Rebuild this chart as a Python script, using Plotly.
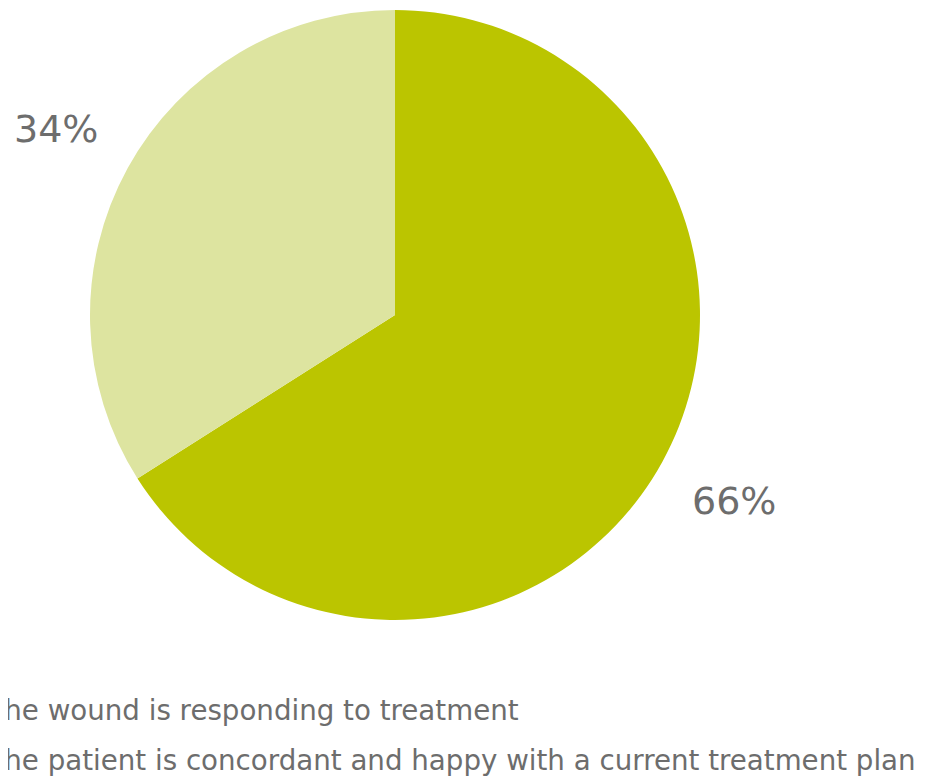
import math
import plotly.graph_objects as go

labels = ["The wound is responding to treatment",
          "The patient is concordant and happy with a current treatment plan"]
values = [66, 34]
colors = ["#BBC500", "#DDE4A0"]

W, H = 926, 780
# figure coordinates (page body adds an 8px offset)
cx, cy, r = 387, 307, 305

legend_labels = [f'<span style="font-size:27.7px">{l}</span>' for l in labels]

fig = go.Figure(go.Pie(
    labels=legend_labels, values=values, sort=False, direction="clockwise", rotation=0,
    marker=dict(colors=colors, line=dict(width=0)),
    textinfo="none", hoverinfo="percent",
    domain=dict(x=[(cx - r) / W, (cx + r) / W], y=[(H - cy - r) / H, (H - cy + r) / H]),
))

# outside percentage labels, placed along each slice's mid-angle
total = sum(values)
cum = 0
for v in values:
    mid = (cum + v / 2) / total * 2 * math.pi
    cum += v
    rr = r + 82
    px = cx + rr * math.sin(mid)
    py = cy - rr * math.cos(mid)
    fig.add_annotation(x=px / W, y=1 - py / H, xref="paper", yref="paper",
                       xanchor="center", yanchor="middle",
                       text=f"{round(v / total * 100)}%", showarrow=False,
                       font=dict(size=38, color="#6d6d6d"))

fig.update_layout(
    width=W, height=H, margin=dict(l=0, r=0, t=0, b=0, autoexpand=False),
    paper_bgcolor="white", plot_bgcolor="white",
    font=dict(family="DejaVu Sans", color="#6d6d6d"),
    showlegend=True,
    legend=dict(x=-0.0655, xanchor="left", y=0.1436, yanchor="top",
                font=dict(size=36, color="#6d6d6d"), bgcolor="rgba(0,0,0,0)"),
)
fig.write_html("out.html")
